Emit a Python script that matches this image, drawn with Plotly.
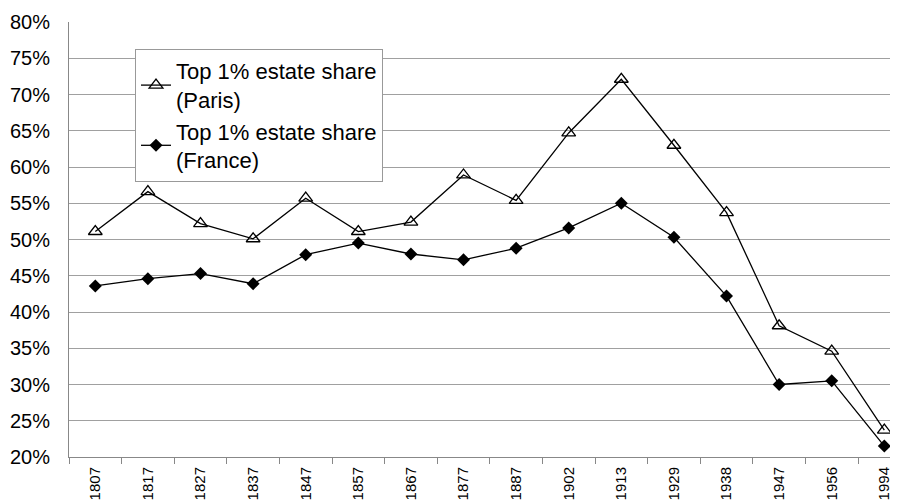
import plotly.graph_objects as go

years = ["1807", "1817", "1827", "1837", "1847", "1857", "1867", "1877",
         "1887", "1902", "1913", "1929", "1938", "1947", "1956", "1994"]
paris = [0.511, 0.566, 0.522, 0.501, 0.557, 0.511, 0.524, 0.589,
         0.554, 0.647, 0.721, 0.630, 0.537, 0.381, 0.346, 0.237]
france = [0.436, 0.446, 0.453, 0.439, 0.479, 0.495, 0.480, 0.472,
          0.488, 0.516, 0.550, 0.503, 0.422, 0.300, 0.305, 0.215]
y_ticks = [0.20, 0.25, 0.30, 0.35, 0.40, 0.45, 0.50, 0.55, 0.60, 0.65, 0.70, 0.75, 0.80]

fig = go.Figure()
fig.add_trace(go.Scatter(
    x=years, y=paris, mode="lines+markers",
    name="Top 1% estate share<br>(Paris)",
    line=dict(color="black", width=1.3),
    marker=dict(symbol="triangle-up-open", size=12, color="black", line=dict(width=1.3)),
))
fig.add_trace(go.Scatter(
    x=years, y=france, mode="lines+markers",
    name="Top 1% estate share<br>(France)",
    line=dict(color="black", width=1.3),
    marker=dict(symbol="diamond", size=10, color="black"),
))

# page body has an 8px default margin, so the figure is 890x493 with offsets compensated
fig.update_layout(
    width=890, height=493,
    margin=dict(l=61, r=0, t=14, b=44, autoexpand=False),
    paper_bgcolor="white", plot_bgcolor="white",
    font=dict(family="Liberation Sans, Arial, sans-serif", color="black"),
    showlegend=True,
    legend=dict(
        x=(135 - 69) / 829, y=(457 - 49) / 435, xanchor="left", yanchor="top",
        bgcolor="white", bordercolor="#999999", borderwidth=1,
        font=dict(size=22, color="black"),
        itemwidth=30, tracegroupgap=0,
    ),
)
fig.update_xaxes(
    type="category", range=[-0.5, 15.26], automargin=False,
    tickson="boundaries", ticks="outside", ticklen=6, tickcolor="#888888",
    tickangle=-90, tickfont=dict(size=15), ticklabelstandoff=3,
    showline=True, linecolor="#888888", linewidth=1,
    showgrid=False, zeroline=False,
)
fig.update_yaxes(
    range=[0.20, 0.80], tickvals=y_ticks, tickformat=".0%", automargin=False,
    tickfont=dict(size=20), ticklabelstandoff=14,
    showgrid=True, gridcolor="#a0a0a0", gridwidth=1,
    showline=True, linecolor="#888888", linewidth=1,
    zeroline=False, ticks="",
)

fig.write_html("out.html")
